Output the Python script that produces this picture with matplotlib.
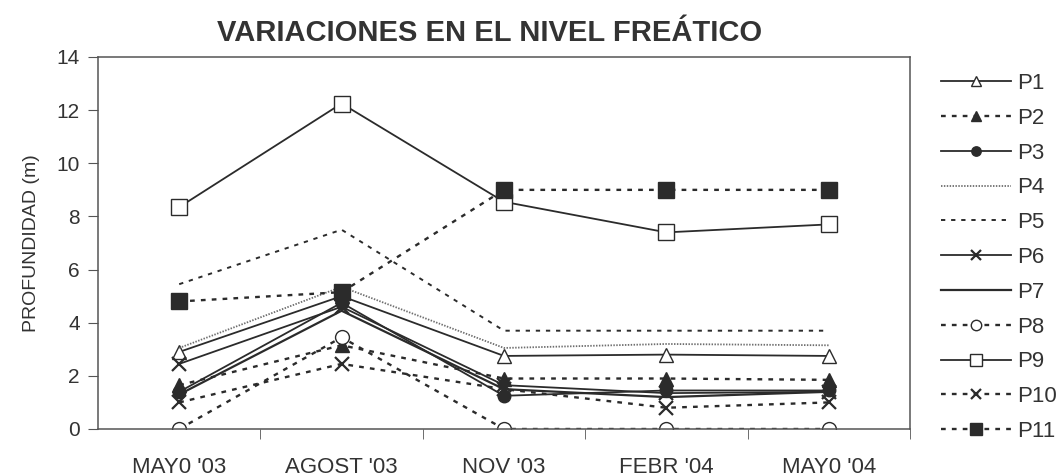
import matplotlib
matplotlib.use("Agg")
import matplotlib.pyplot as plt
from matplotlib.ticker import FixedLocator

plt.rcParams['font.family'] = ['Liberation Sans', 'DejaVu Sans']

# ---- data ----
categories = ["MAY0 '03", "AGOST '03", "NOV '03", "FEBR '04", "MAY0 '04"]
series_names = ["P1", "P2", "P3", "P4", "P5", "P6", "P7", "P8", "P9", "P10", "P11"]
P1 = [2.9, 5.0, 2.75, 2.8, 2.75]
P2 = [1.65, 3.15, 1.9, 1.9, 1.85]
P3 = [1.4, 4.75, 1.25, 1.45, 1.45]
P4 = [3.05, 5.35, 3.05, 3.2, 3.15]
P5 = [5.45, 7.5, 3.7, 3.7, 3.7]
P6 = [2.45, 4.6, 1.65, 1.35, 1.4]
P7 = [1.3, 4.45, 1.5, 1.2, 1.4]
P8 = [0.0, 3.45, 0.0, 0.0, 0.0]
P9 = [8.35, 12.25, 8.55, 7.4, 7.7]
P10 = [1.0, 2.45, 1.5, 0.8, 1.0]
P11 = [4.8, 5.15, 9.0, 9.0, 9.0]
series_values = [P1, P2, P3, P4, P5, P6, P7, P8, P9, P10, P11]
yticks = [0, 2, 4, 6, 8, 10, 12, 14]

# ---- styles ----
ink = '#2b2b2b'
coarse = (0, (2.0, 2.6))
styles = {
    "P1": dict(ls='-', lw=1.3, marker='^', mfc='white', ms=10),
    "P2": dict(ls=coarse, lw=1.7, marker='^', mfc=ink, ms=10),
    "P3": dict(ls='-', lw=1.3, marker='o', mfc=ink, ms=9),
    "P4": dict(ls=(0, (0.8, 0.8)), lw=1.3, marker=None, color='#6e6e6e'),
    "P5": dict(ls=(0, (2.2, 3.0)), lw=1.4, marker=None),
    "P6": dict(ls='-', lw=1.3, marker='x', ms=10, mew=1.6),
    "P7": dict(ls='-', lw=1.6, marker=None),
    "P8": dict(ls=coarse, lw=1.7, marker='o', mfc='white', ms=10),
    "P9": dict(ls='-', lw=1.3, marker='s', mfc='white', ms=11),
    "P10": dict(ls=coarse, lw=1.7, marker='x', ms=10, mew=1.6),
    "P11": dict(ls=coarse, lw=1.7, marker='s', mfc=ink, ms=11),
}

fig = plt.figure(figsize=(10.64, 4.76), dpi=100)
ax = fig.add_axes([98 / 1064, 47 / 476, 812 / 1064, 372 / 476])

x = list(range(len(categories)))
handles = []
for name, vals in zip(series_names, series_values):
    st = dict(styles[name])
    color = st.pop('color', ink)
    h, = ax.plot(x, vals, color=color, mec=ink, label=name, **st)
    handles.append(h)

ax.set_xlim(-0.5, len(categories) - 0.5)
ax.set_ylim(0, 14)
ax.set_yticks(yticks)
ax.set_xticks(x)
ax.set_xticklabels(categories, fontsize=16, color='#333333')
ax.xaxis.set_minor_locator(FixedLocator([i + 0.5 for i in range(len(categories))]))
ax.tick_params(axis='x', which='major', length=0, pad=20)
ax.tick_params(axis='x', which='minor', length=7, direction='out', color='#555555')
ax.tick_params(axis='y', length=7, direction='out', color='#555555', labelsize=15,
               labelcolor='#333333', pad=6)
for s in ax.spines.values():
    s.set_color('#555555')
    s.set_linewidth(1.1)

ax.set_ylabel('PROFUNDIDAD (m)', fontsize=14, color='#333333', labelpad=12)

fig.text(490 / 1064, 1 - 33 / 476, 'VARIACIONES EN EL NIVEL FREÁTICO', ha='center',
         va='center', fontsize=21, fontweight='bold', color='#333333')

leg = fig.legend(handles=handles, labels=series_names, loc='upper left',
                 bbox_to_anchor=(930 / 1064, 1 - 62 / 476), frameon=False,
                 fontsize=16, handlelength=3.15, handletextpad=0.25,
                 labelspacing=0.62, borderpad=0, markerscale=0.75)
for t in leg.get_texts():
    t.set_color('#333333')

fig.savefig('out.png', dpi=100)
